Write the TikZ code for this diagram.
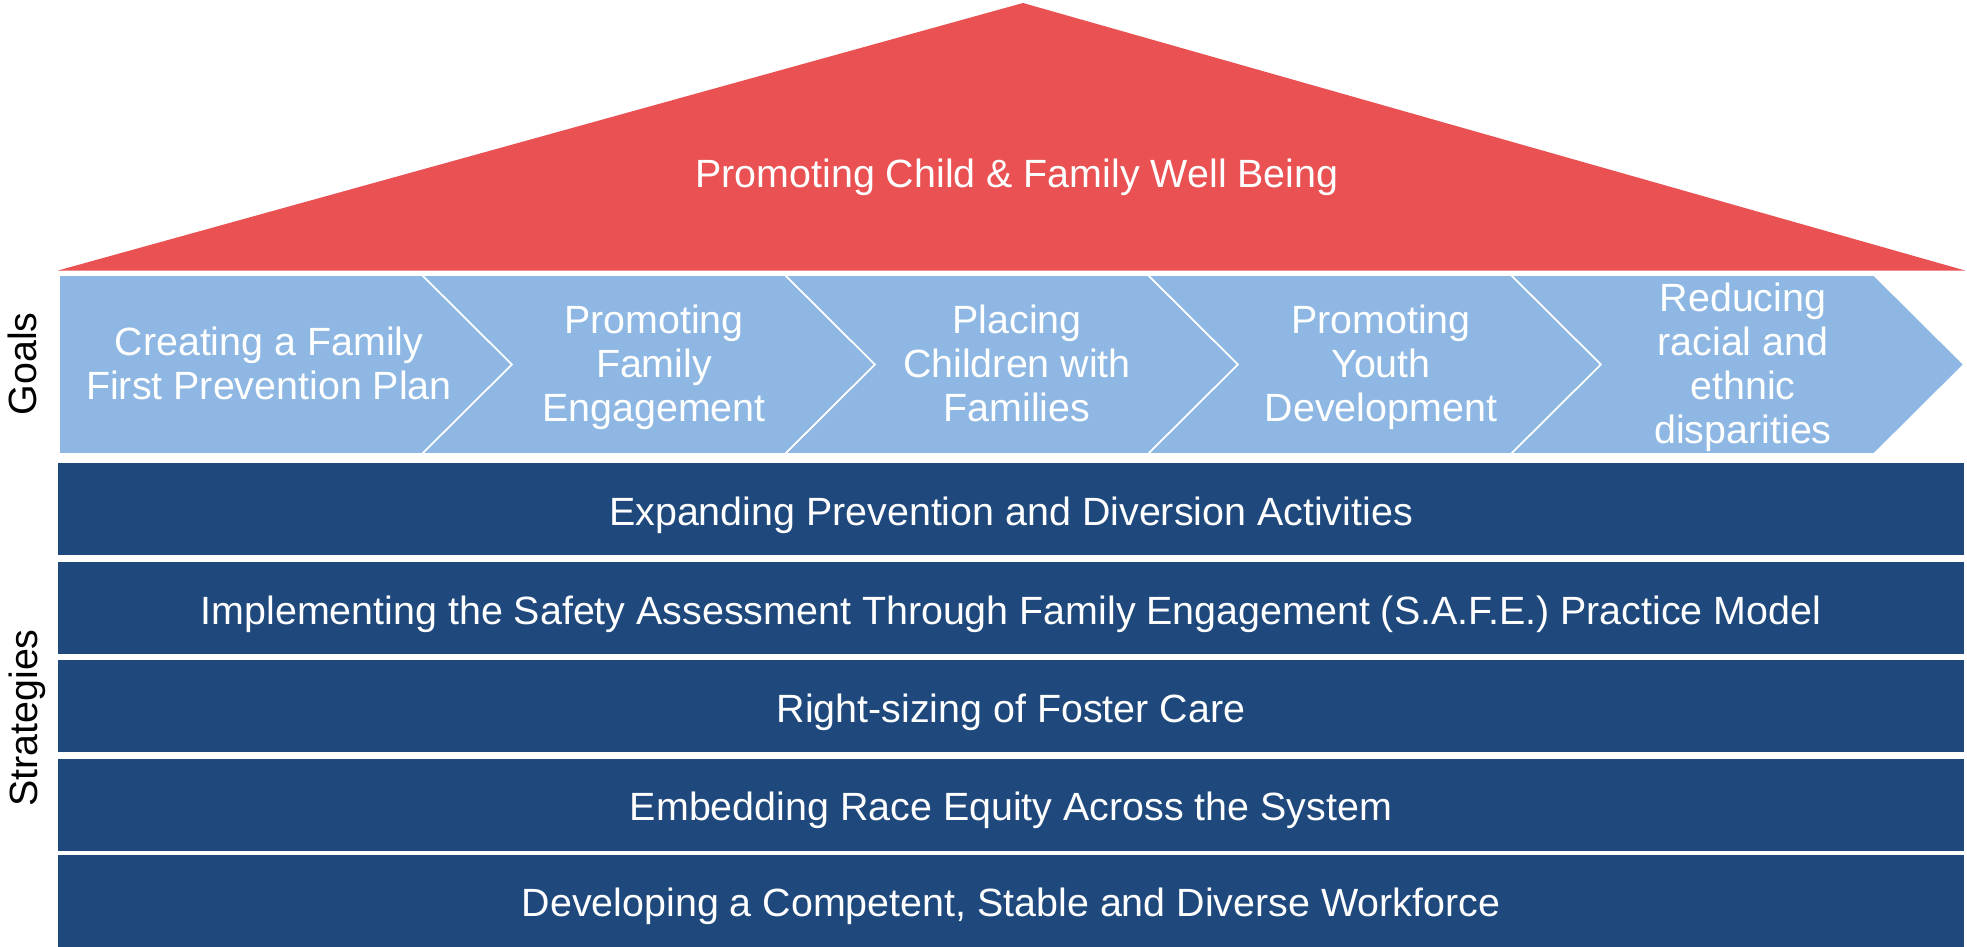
\documentclass[tikz,border=0pt]{standalone}
\usepackage{fontspec}
\setmainfont{Liberation Sans}
\definecolor{roofred}{HTML}{E95153}
\definecolor{goalblue}{HTML}{8EB8E3}
\definecolor{stratblue}{HTML}{1F497D}
% uniform line strut so that multi-line labels centre on their mean baseline
\newcommand{\lnstrut}{\rule[-0.2em]{0pt}{1em}}

\begin{document}
\begin{tikzpicture}[x=0.5pt,y=-0.5pt,
  roof/.style={fill=roofred},
  chevbox/.style={fill=goalblue, draw=white, line width=0.8pt, line join=miter},
  stratbar/.style={fill=stratblue},
  lbl/.style={text=white, inner sep=0pt, align=center,
    font=\fontsize{19.7pt}{22pt}\selectfont},
  side/.style={text=black, inner sep=0pt, rotate=90, anchor=base,
    font=\fontsize{19.7pt}{22pt}\selectfont}]

\useasboundingbox (0,0) rectangle (1967,947);

% roof
\fill[roof] (58,270.5) -- (1023,3) -- (1965,270.5) -- cycle;
\node[lbl] (roof) at (1017,176) {\lnstrut Promoting Child \& Family Well Being};

% goal chevrons
\draw[chevbox] (59,275) -- (422,275) -- (512,364.5) -- (422,454) -- (59,454) -- cycle;
\foreach \i in {0,1,2,3} {
  \pgfmathsetmacro{\L}{422+363*\i}
  \draw[chevbox] (\L,275) -- ({\L+363},275) -- ({\L+453},364.5)
     -- ({\L+363},454) -- (\L,454) -- ({\L+90},364.5) -- cycle;
}
\node[lbl] (g1) at (269,366) {\lnstrut Creating a Family\\\lnstrut First Prevention Plan};
\node[lbl] (g2) at (654,366) {\lnstrut Promoting\\\lnstrut Family\\\lnstrut Engagement};
\node[lbl] (g3) at (1017,366) {\lnstrut Placing\\\lnstrut Children with\\\lnstrut Families};
\node[lbl] (g4) at (1381,366) {\lnstrut Promoting\\\lnstrut Youth\\\lnstrut Development};
\node[lbl] (g5) at (1743,366) {\lnstrut Reducing\\\lnstrut racial and\\\lnstrut ethnic\\\lnstrut disparities};

% strategy bars
\fill[stratbar] (58,463) rectangle (1964,555);
\fill[stratbar] (58,562) rectangle (1964,654);
\fill[stratbar] (58,660) rectangle (1964,752);
\fill[stratbar] (58,759) rectangle (1964,851);
\fill[stratbar] (58,855) rectangle (1964,947);
\node[lbl] (s1) at (1011,514) {\lnstrut Expanding Prevention and Diversion Activities};
\node[lbl] (s2) at (1011,613) {\lnstrut Implementing the Safety Assessment Through Family Engagement (S.A.F.E.) Practice Model};
\node[lbl] (s3) at (1011,711) {\lnstrut Right-sizing of Foster Care};
\node[lbl] (s4) at (1011,809) {\lnstrut Embedding Race Equity Across the System};
\node[lbl] (s5) at (1011,905) {\lnstrut Developing a Competent, Stable and Diverse Workforce};

% side labels
\node[side] (goals) at (36,364) {Goals};
\node[side] (strategies) at (38,718) {Strategies};
\end{tikzpicture}
\end{document}
